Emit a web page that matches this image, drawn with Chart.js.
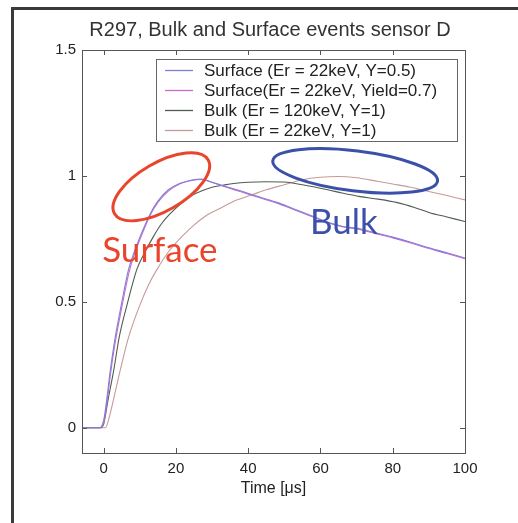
<!DOCTYPE html>
<html><head><meta charset="utf-8">
<script src="https://cdn.jsdelivr.net/npm/chart.js@4/dist/chart.umd.min.js"></script>
<style>html,body{margin:0;padding:0;background:#fff;}canvas{display:block}</style>
</head><body>
<canvas id="c" width="518" height="523"></canvas>
<script>
const titleText = "R297, Bulk and Surface events sensor D";
const xTitle = "Time [\u03bcs]";
const seriesLabels = [
  "Surface (Er = 22keV, Y=0.5)",
  "Surface(Er = 22keV, Yield=0.7)",
  "Bulk (Er = 120keV, Y=1)",
  "Bulk (Er = 22keV, Y=1)"
];
const seriesColors = ["#7f7fd8", "#c86ac8", "#4f5c50", "#c79a9a"];

const tSurf05 = [-6, -1.2, 0, 1, 1.85, 3.2, 4.9, 6.9, 8.5, 10.1, 12.9, 15, 17.9, 21, 24.4, 27, 30, 34, 38, 43, 48, 52.5, 57, 62, 66, 71, 75, 80, 85, 89.5, 95, 100];
const vSurf05 = [0, 0, 0.03, 0.13, 0.23, 0.36, 0.49, 0.63, 0.70, 0.76, 0.85, 0.90, 0.945, 0.97, 0.984, 0.988, 0.975, 0.957, 0.94, 0.917, 0.895, 0.87, 0.845, 0.817, 0.80, 0.79, 0.775, 0.757, 0.737, 0.717, 0.695, 0.674];

const tSurf07 = [-6, -1.2, 0, 1, 1.85, 3.2, 4.9, 6.9, 8.5, 10.1, 12.9, 15, 17.9, 21, 24.4, 27, 30, 34, 38, 43, 48, 52.5, 57, 62, 66, 71, 75, 80, 85, 89.5, 95, 100];
const vSurf07 = [0, 0, 0.02, 0.11, 0.21, 0.34, 0.47, 0.61, 0.69, 0.75, 0.845, 0.895, 0.94, 0.968, 0.982, 0.986, 0.974, 0.955, 0.937, 0.914, 0.892, 0.867, 0.842, 0.815, 0.798, 0.787, 0.772, 0.754, 0.734, 0.714, 0.692, 0.671];

const tBulk120 = [-6, -1, 0, 1.2, 2.8, 4.3, 6.5, 9.2, 11.5, 13.8, 16, 18.4, 21, 23.5, 27, 30, 33, 36, 40, 45, 50, 55, 62, 66, 71, 76, 81, 86, 90, 95, 100];
const vBulk120 = [0, 0, 0.015, 0.11, 0.23, 0.36, 0.49, 0.63, 0.70, 0.76, 0.81, 0.85, 0.885, 0.915, 0.94, 0.955, 0.963, 0.97, 0.975, 0.977, 0.976, 0.965, 0.945, 0.932, 0.918, 0.908, 0.895, 0.875, 0.855, 0.837, 0.819];

const tBulk22 = [-6, 0.5, 1.5, 3, 4.6, 6.9, 10.1, 12.5, 14.8, 18, 21.7, 25, 28.6, 32, 37, 41, 45, 50, 55, 60, 65, 70, 76, 80, 85, 90, 95, 100];
const vBulk22 = [0, 0, 0.04, 0.13, 0.23, 0.36, 0.49, 0.57, 0.63, 0.70, 0.76, 0.805, 0.845, 0.87, 0.905, 0.925, 0.945, 0.965, 0.985, 0.995, 0.998, 0.993, 0.978, 0.968, 0.955, 0.938, 0.922, 0.905];

const xTicks = [0, 20, 40, 60, 80, 100];
const yTicks = [0, 0.5, 1, 1.5];

// annotations (data coordinates)
const annoSurfaceText = "Surface";
const annoBulkText = "Bulk";
const annoSurfacePos = [-0.4, 0.658];
const annoBulkPos = [57.1, 0.77];
const ellipseRedCenter = [15.95, 0.957];
const ellipseBlueCenter = [69.6, 1.02];

const pts = (t, v) => t.map((x, i) => ({x: x, y: v[i]}));
const allT = [tSurf05, tSurf07, tBulk120, tBulk22];
const allV = [vSurf05, vSurf07, vBulk120, vBulk22];

const datasets = seriesLabels.map((lab, i) => ({
  label: lab,
  data: pts(allT[i], allV[i]),
  borderColor: seriesColors[i],
  backgroundColor: seriesColors[i],
  borderWidth: 1.1,
  pointRadius: 0,
  fill: false,
  cubicInterpolationMode: 'monotone'
}));

const decor = {
  id: 'decor',
  beforeDraw(chart) {
    const c = chart.ctx;
    c.save();
    c.fillStyle = '#fff';
    c.fillRect(0, 0, chart.width, chart.height);
    c.strokeStyle = '#3a3a3a';
    c.lineWidth = 3;
    c.beginPath();
    c.moveTo(12.5, chart.height);
    c.lineTo(12.5, 8.5);
    c.lineTo(chart.width, 8.5);
    c.stroke();
    // title
    c.fillStyle = '#333';
    c.font = '20px "Liberation Sans"';
    c.textAlign = 'center';
    c.textBaseline = 'middle';
    c.fillText(titleText, 270, 30);
    c.restore();
  },
  afterDatasetsDraw(chart) {
    const c = chart.ctx;
    const xs = chart.scales.x, ys = chart.scales.y;
    const a = chart.chartArea;
    c.save();
    // axes box
    c.strokeStyle = '#555';
    c.lineWidth = 1;
    c.strokeRect(Math.round(a.left) + 0.5, Math.round(a.top) + 0.5, Math.round(a.right - a.left), Math.round(a.bottom - a.top));
    // inward ticks
    c.beginPath();
    xTicks.forEach(v => {
      const px = Math.round(xs.getPixelForValue(v)) + 0.5;
      c.moveTo(px, a.bottom); c.lineTo(px, a.bottom - 5);
      c.moveTo(px, a.top); c.lineTo(px, a.top + 5);
    });
    yTicks.forEach(v => {
      const py = Math.round(ys.getPixelForValue(v)) + 0.5;
      c.moveTo(a.left, py); c.lineTo(a.left + 5, py);
      c.moveTo(a.right, py); c.lineTo(a.right - 5, py);
    });
    c.stroke();

    // annotations
    c.lineWidth = 3;
    c.strokeStyle = '#e8452c';
    c.beginPath();
    c.ellipse(xs.getPixelForValue(ellipseRedCenter[0]), ys.getPixelForValue(ellipseRedCenter[1]), 54, 24, -Math.PI / 6, 0, Math.PI * 2);
    c.stroke();
    c.strokeStyle = '#3b50a8';
    c.beginPath();
    c.ellipse(xs.getPixelForValue(ellipseBlueCenter[0]), ys.getPixelForValue(ellipseBlueCenter[1]), 83, 20, 7 * Math.PI / 180, 0, Math.PI * 2);
    c.stroke();
    c.font = '35px Lato';
    c.textBaseline = 'alphabetic';
    c.textAlign = 'left';
    c.fillStyle = '#e8452c';
    c.fillText(annoSurfaceText, xs.getPixelForValue(annoSurfacePos[0]), ys.getPixelForValue(annoSurfacePos[1]));
    c.fillStyle = '#3b50a8';
    c.fillText(annoBulkText, xs.getPixelForValue(annoBulkPos[0]), ys.getPixelForValue(annoBulkPos[1]));

    // legend box
    const lx = 156, ly = 59, lw = 301, lh = 82;
    c.fillStyle = '#fff';
    c.fillRect(lx, ly, lw, lh);
    c.lineWidth = 1;
    c.strokeStyle = '#666';
    c.strokeRect(lx + 0.5, ly + 0.5, lw, lh);
    c.font = '17px "Liberation Sans"';
    c.textBaseline = 'middle';
    chart.data.datasets.forEach((ds, i) => {
      const y = ly + 11 + i * 20;
      c.strokeStyle = ds.borderColor;
      c.lineWidth = 1.3;
      c.beginPath();
      c.moveTo(165, y + 0.5); c.lineTo(193, y + 0.5);
      c.stroke();
      c.fillStyle = '#222';
      c.fillText(ds.label, 204, y + 1);
    });
    c.restore();
  }
};

new Chart(document.getElementById('c'), {
  type: 'line',
  data: { datasets: datasets },
  plugins: [decor],
  options: {
    responsive: false,
    devicePixelRatio: 1,
    animation: false,
    layout: { padding: { left: 14, right: 53, top: 50, bottom: 0 } },
    plugins: {
      legend: { display: false },
      tooltip: { enabled: false },
      title: { display: false }
    },
    scales: {
      x: {
        type: 'linear', min: -6, max: 100,
        afterBuildTicks: s => { s.ticks = xTicks.map(v => ({ value: v })); },
        afterFit: s => { s.height = 70; },
        grid: { display: false, drawTicks: false },
        border: { display: false },
        ticks: { padding: 7, color: '#222', maxRotation: 0, autoSkip: false,
          callback: v => String(v),
          font: { family: 'Liberation Sans', size: 15 } },
        title: { display: true, text: xTitle, color: '#222',
          font: { family: 'Liberation Sans', size: 16, lineHeight: 1.2 },
          padding: { top: 0, bottom: 25 } }
      },
      y: {
        type: 'linear', min: -0.1, max: 1.5,
        afterBuildTicks: s => { s.ticks = yTicks.map(v => ({ value: v })); },
        afterFit: s => { s.width = 68; },
        grid: { display: false, drawTicks: false },
        border: { display: false },
        ticks: { padding: 6, color: '#222', autoSkip: false,
          callback: v => String(v),
          font: { family: 'Liberation Sans', size: 15 } }
      }
    }
  }
});
</script>
</body></html>
